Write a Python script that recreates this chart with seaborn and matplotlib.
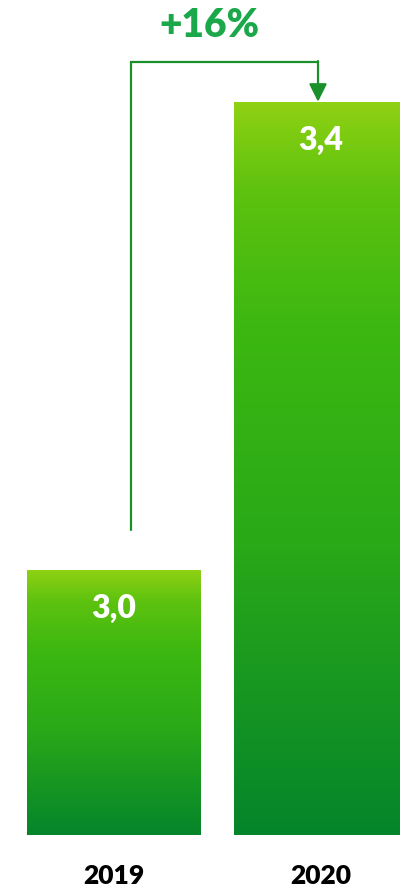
import numpy as np
import seaborn as sns
import matplotlib.pyplot as plt
from matplotlib.colors import LinearSegmentedColormap
import matplotlib.patheffects as pe

years = ['2019', '2020']
values = [3.0, 3.4]
value_labels = ['3,0', '3,4']
change_label = '+16%'

baseline = 2.773
top_limit = 3.487

sns.set_theme(style="white")
plt.rcParams['font.family'] = ['Lato', 'DejaVu Sans']

fig = plt.figure(figsize=(4, 8.89), dpi=100)
ax = fig.add_axes([0, 54 / 889, 1, 835 / 889])

sns.barplot(x=years, y=values, ax=ax, width=0.836, color='#3cb512')

grad = LinearSegmentedColormap.from_list('bar', [
    (0.0, '#05852a'), (0.4, '#2aa918'), (0.7, '#3db811'),
    (0.88, '#5ec20f'), (1.0, '#8fd113')])
img = np.linspace(0, 1, 256).reshape(-1, 1)

for p, v, lab in zip(ax.patches, values, value_labels):
    p.set_facecolor('none')
    p.set_edgecolor('none')
    p.set_path_effects([pe.SimplePatchShadow(offset=(0, -1.5), shadow_rgbFace='#999999', alpha=0.35)])
    x0, w = p.get_x(), p.get_width()
    im = ax.imshow(img, cmap=grad, origin='lower', aspect='auto',
                   extent=[x0, x0 + w, baseline, v], zorder=3)
    im.set_clip_path(p)
    ax.text(x0 + w / 2, v - 0.033, lab, ha='center', va='center',
            color='white', fontsize=23, fontweight='heavy', zorder=5)

# bracket with arrow from 2019 to 2020
off = 0.034
xl = 0.085
xr = 0.988
y_top = values[1] + off
line_col = '#1a8f2a'
ax.plot([xl, xl, xr], [values[0] + off, y_top, y_top], color=line_col,
        lw=1.6, solid_joinstyle='miter', clip_on=False, zorder=4)
ax.annotate('', xy=(xr, values[1]), xytext=(xr, y_top + 0.0008),
            arrowprops=dict(arrowstyle='-|>,head_length=0.9,head_width=0.45',
                            color=line_col, lw=1.6, shrinkA=0, shrinkB=0),
            annotation_clip=False, zorder=4)
ax.text(0.465, 3.465, change_label, ha='center', va='center',
        color='#1aa84a', fontsize=28, fontweight='heavy', clip_on=False)

ax.set_xlim(-0.548, 1.384)
ax.set_ylim(baseline, top_limit)
ax.set_yticks([])
ax.tick_params(axis='x', length=0, pad=21, labelsize=19)
for t in ax.get_xticklabels():
    t.set_fontweight('heavy')
    t.set_color('black')
ax.set_xlabel('')
sns.despine(left=True, right=True, top=True, bottom=True)

plt.savefig('out.png', dpi=100)
plt.close('all')
